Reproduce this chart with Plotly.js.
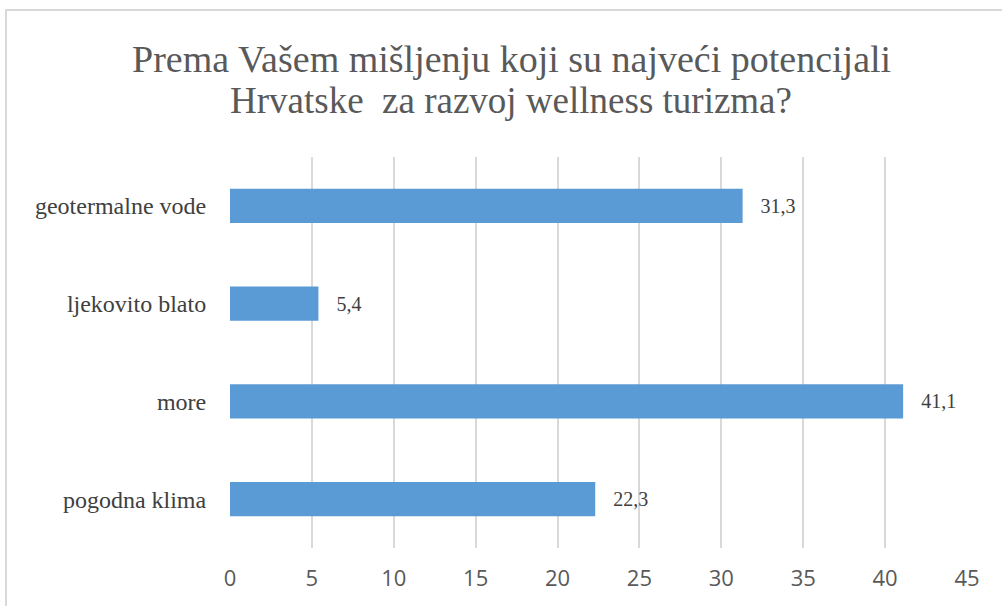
<!DOCTYPE html>
<html><head><meta charset="utf-8">
<script src="https://cdn.plot.ly/plotly-3.0.1.min.js"></script>
<style>
html,body{margin:0;padding:0;background:#fff;overflow:hidden;}
#frame{position:absolute;left:5px;top:9px;width:1010px;height:620px;border:2px solid #d9d9d9;box-sizing:border-box;pointer-events:none;z-index:5;}
#chart{position:absolute;left:0;top:0;width:1002px;height:606px;}
</style></head>
<body>
<div id="chart"></div>
<div id="frame"></div>
<script>
const categories = ["geotermalne vode", "ljekovito blato", "more", "pogodna klima"];
const values = [31.3, 5.4, 41.1, 22.3];
const tickValues = [0, 5, 10, 15, 20, 25, 30, 35, 40, 45];
const titleLines = ["Prema Vašem mišljenju koji su najveći potencijali", "Hrvatske  za razvoj wellness turizma?"];

const SERIF = "'Liberation Serif'";
const SANS = "'Open Sans'";

const trace = {
  type: "bar",
  orientation: "h",
  y: categories,
  x: values,
  marker: {color: "#5b9bd5"},
  texttemplate: "   %{x:.1f}",
  textposition: "outside",
  cliponaxis: false,
  textfont: {family: SERIF, size: 20, color: "#404040"},
  hoverinfo: "none"
};

// plot area spans 157..548 px vertically (391 px); convert title pixel centres to paper y
const plotTop = 157, plotH = 391;
const titleCentres = [59, 100];
const titleSizes = [38, 37];
const annotations = titleLines.map((t, i) => ({
  text: t,
  xref: "paper", yref: "paper",
  x: (511 - 230) / 737, y: 1 + (plotTop - titleCentres[i]) / plotH,
  xanchor: "center", yanchor: "middle",
  showarrow: false,
  font: {family: SERIF, size: titleSizes[i], color: "#595959"}
}));

const layout = {
  width: 1002, height: 606,
  separators: ",.",
  paper_bgcolor: "#fff", plot_bgcolor: "#fff",
  margin: {l: 230, r: 35, t: 157, b: 58},
  bargap: 0.65,
  showlegend: false,
  annotations: annotations,
  xaxis: {
    range: [0, 45],
    tickvals: tickValues,
    showgrid: true, gridcolor: "#d9d9d9", gridwidth: 2,
    zeroline: false, showline: false,
    ticks: "outside", ticklen: 11, tickcolor: "rgba(0,0,0,0)",
    tickfont: {family: SANS, size: 22, color: "#595959"},
    fixedrange: true
  },
  yaxis: {
    type: "category",
    categoryorder: "array", categoryarray: categories,
    autorange: "reversed",
    showgrid: false, zeroline: false, showline: false,
    ticks: "outside", ticklen: 18, tickcolor: "rgba(0,0,0,0)",
    tickfont: {family: SERIF, size: 24, color: "#404040"},
    fixedrange: true
  }
};

Plotly.newPlot("chart", [trace], layout, {displayModeBar: false, staticPlot: true});
</script>
</body></html>
